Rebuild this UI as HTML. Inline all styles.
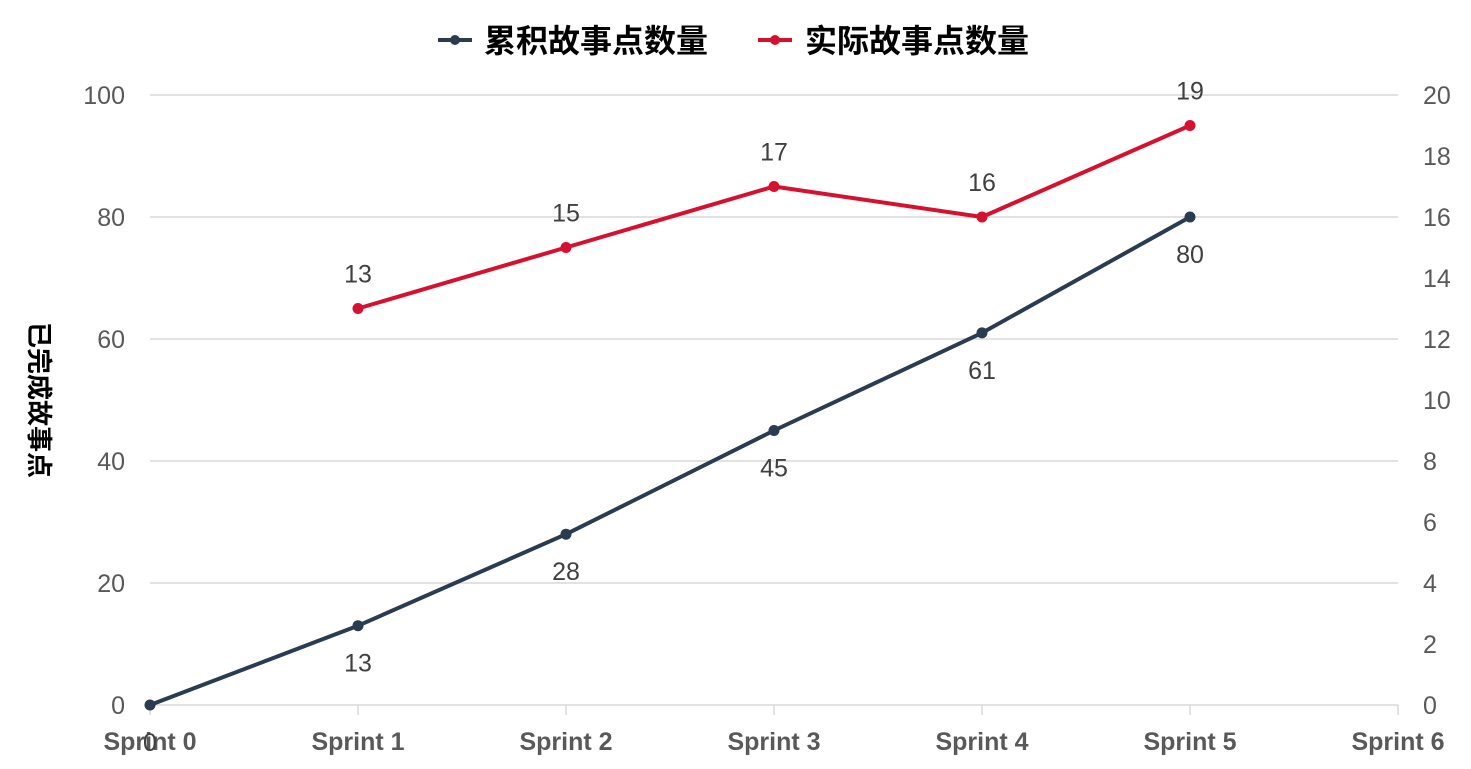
<!DOCTYPE html>
<html><head><meta charset="utf-8"><style>
html,body{margin:0;padding:0;background:#fff;}
svg{display:block;font-family:"Liberation Sans","Noto Sans CJK SC",sans-serif;}
</style></head><body>
<svg id="chart" width="1471" height="769" viewBox="0 0 1471 769" xmlns="http://www.w3.org/2000/svg">
<g id="legend">
  <g>
    <line x1="438" y1="40" x2="472" y2="40" stroke="#2b3b50" stroke-width="4"/>
    <circle cx="455" cy="40" r="5" fill="#2b3b50"/>
    <text x="484" y="52" font-size="32" font-weight="bold" fill="#000">累积故事点数量</text>
  </g>
  <g>
    <line x1="758" y1="40" x2="792" y2="40" stroke="#d6112f" stroke-width="4"/>
    <circle cx="775" cy="40" r="5" fill="#d6112f"/>
    <text x="805" y="52" font-size="32" font-weight="bold" fill="#000">实际故事点数量</text>
  </g>
</g>
<text transform="translate(30,400) rotate(90)" text-anchor="middle" font-size="26" font-weight="bold" fill="#000">已完成故事点</text>
<g id="grid"></g><g id="axes"></g><g id="series"></g>
</svg>
<script>
const categories=["Sprint 0","Sprint 1","Sprint 2","Sprint 3","Sprint 4","Sprint 5","Sprint 6"];
const cumulative=[0,13,28,45,61,80];
const actual=[null,13,15,17,16,19];
const leftTicks=[0,20,40,60,80,100];
const rightTicks=[0,2,4,6,8,10,12,14,16,18,20];
const L=150,R=1398,T=95,B=705;
const xs=i=>L+(R-L)*i/(categories.length-1);
const yL=v=>B-(B-T)*v/100;
const yR=v=>B-(B-T)*v/20;
const NS="http://www.w3.org/2000/svg";
function mk(tag,attrs,parent,text){const e=document.createElementNS(NS,tag);for(const k in attrs)e.setAttribute(k,attrs[k]);if(text!==undefined)e.textContent=text;parent.appendChild(e);return e;}
const grid=document.getElementById('grid'),axes=document.getElementById('axes'),ser=document.getElementById('series');
leftTicks.forEach(t=>{
  const ln=mk('line',{x1:L,x2:R,y1:yL(t),y2:yL(t),stroke:'#d9d9d9','stroke-width':1.5},grid);
  
  
  const tx=mk('text',{x:125,y:yL(t)+9,'text-anchor':'end','font-size':25,fill:'#595959'},axes,t);
  
  
});
rightTicks.forEach(t=>{
  const tx=mk('text',{x:1423,y:yR(t)+9,'font-size':25,fill:'#595959'},axes,t);
  
  
});
categories.forEach((c,i)=>{
  const tk=mk('line',{x1:xs(i),x2:xs(i),y1:B,y2:B+10,stroke:'#d9d9d9','stroke-width':1.5},axes);
  
  
  const tx=mk('text',{x:xs(i),y:B+45,'text-anchor':'middle','font-size':25,'font-weight':'bold',fill:'#595959'},axes,c);
  
  
});
function drawSeries(vals,yf,color,name,below){
  const pts=[];vals.forEach((v,i)=>{if(v!==null)pts.push([xs(i),yf(v),v]);});
  const pl=mk('polyline',{points:pts.map(p=>p[0]+','+p[1]).join(' '),fill:'none',stroke:color,'stroke-width':4,'stroke-linejoin':'round'},ser);
  
  
  pts.forEach(p=>{
    const c=mk('circle',{cx:p[0],cy:p[1],r:5.5,fill:color},ser);
    
    
    const t=mk('text',{x:p[0],y:below?p[1]+46:p[1]-26,'text-anchor':'middle','font-size':25,fill:'#404040'},ser,p[2]);
    
    
  });
}
drawSeries(cumulative,yL,'#2b3b50','cumulative',true);
drawSeries(actual,yR,'#d6112f','actual',false);
</script>
</body></html>
